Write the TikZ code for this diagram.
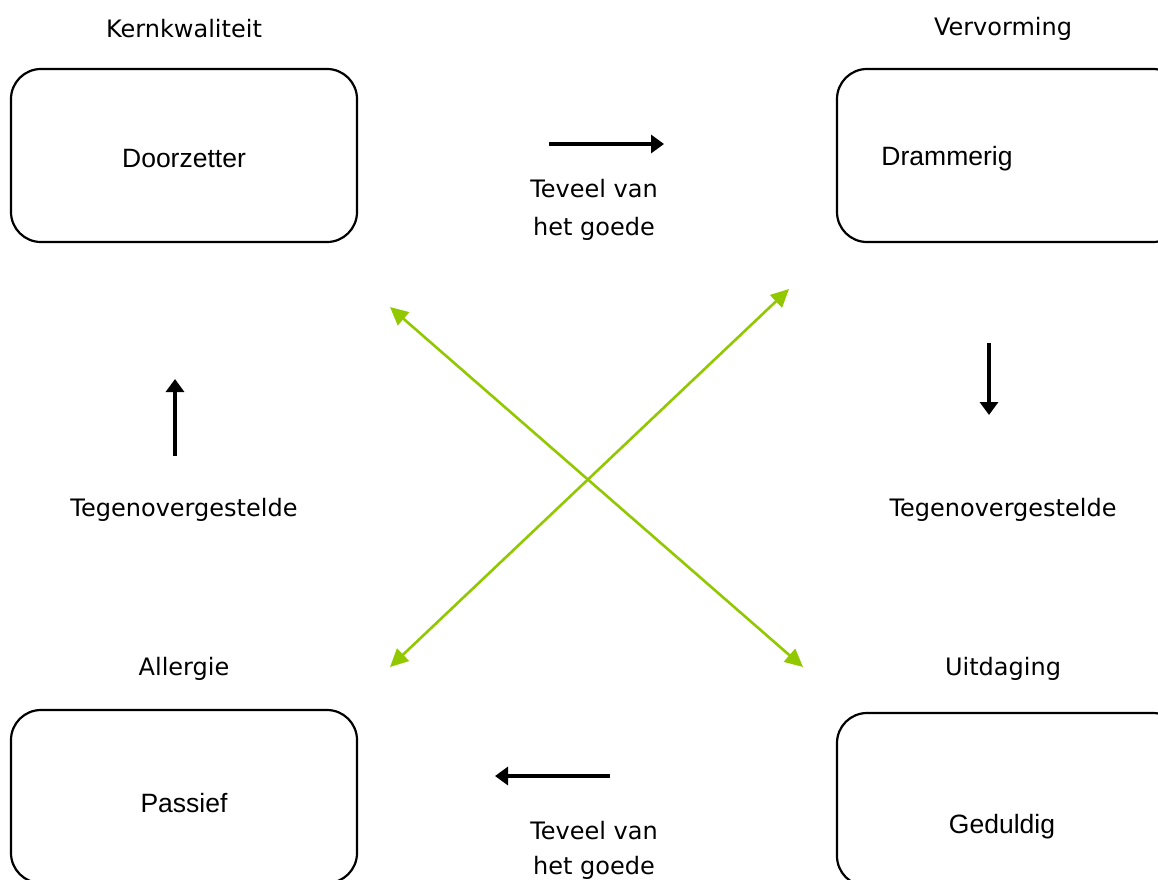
\documentclass[tikz,border=0pt]{standalone}
\usepackage{fontspec}
\setmainfont{DejaVu Sans}
\newfontfamily\boxfont{Liberation Sans}
\usetikzlibrary{arrows.meta}
\definecolor{xgreen}{RGB}{146,200,0}
\tikzset{
  boxnode/.style={draw=black, line width=2.2pt, rounded corners=30pt, minimum width=346pt, minimum height=173pt, inner sep=0pt},
  lbl/.style={font=\fontsize{24}{29}\selectfont, inner sep=0pt, anchor=center},
  boxtext/.style={font=\boxfont\fontsize{26.5}{31}\selectfont, inner sep=0pt, anchor=center},
  blackarrow/.style={line width=4pt, -{Triangle[length=13pt,width=18pt]}},
  greenarrow/.style={draw=xgreen, line width=2.6pt, {Triangle[length=18pt,width=17pt]}-{Triangle[length=18pt,width=17pt]}}
}
\begin{document}
\begin{tikzpicture}[x=1pt,y=-1pt]
\useasboundingbox (0,0) rectangle (1158,879);
\clip (0,0) rectangle (1158,879);
\fill[white] (0,0) rectangle (1158,879);

% boxes
\node[boxnode] (kern) at (184,155.5) {};
\node[boxnode] (verv) at (1010,155.5) {};
\node[boxnode] (aller) at (184,796.5) {};
\node[boxnode] (uitd) at (1010,799.5) {};

% box texts
\node[boxtext] (tdoor) at (184,159) {Doorzetter};
\node[boxtext] (tdram) at (947,159) {Drammerig};
\node[boxtext] (tpass) at (184,803) {Passief};
\node[boxtext] (tgedu) at (1002,827) {Geduldig};

% titles
\node[lbl] (lkern) at (184,29) {Kernkwaliteit};
\node[lbl] (lverv) at (1003,29) {Vervorming};
\node[lbl] (lall) at (184,669) {Allergie};
\node[lbl] (luit) at (1003,669) {Uitdaging};
\node[lbl] (ltegL) at (184,510) {Tegenovergestelde};
\node[lbl] (ltegR) at (1003,510) {Tegenovergestelde};
\node[lbl] (ltv1) at (594,189) {Teveel van};
\node[lbl] (ltv2) at (594,229) {het goede};
\node[lbl] (lbv1) at (594,831) {Teveel van};
\node[lbl] (lbv2) at (594,868) {het goede};

% black arrows
\coordinate (a1s) at (549,144); \coordinate (a1e) at (664,144);
\coordinate (a2s) at (989,343); \coordinate (a2e) at (989,415);
\coordinate (a3s) at (175,456); \coordinate (a3e) at (175,379);
\coordinate (a4s) at (610,776); \coordinate (a4e) at (495,776);
\draw[blackarrow] (a1s) -- (a1e);
\draw[blackarrow] (a2s) -- (a2e);
\draw[blackarrow] (a3s) -- (a3e);
\draw[blackarrow] (a4s) -- (a4e);

% green arrows
\coordinate (g1a) at (390,307); \coordinate (g1b) at (803,667);
\coordinate (g2a) at (390,667); \coordinate (g2b) at (789,289);
\draw[greenarrow] (g1a) -- (g1b);
\draw[greenarrow] (g2a) -- (g2b);
\end{tikzpicture}
\end{document}
